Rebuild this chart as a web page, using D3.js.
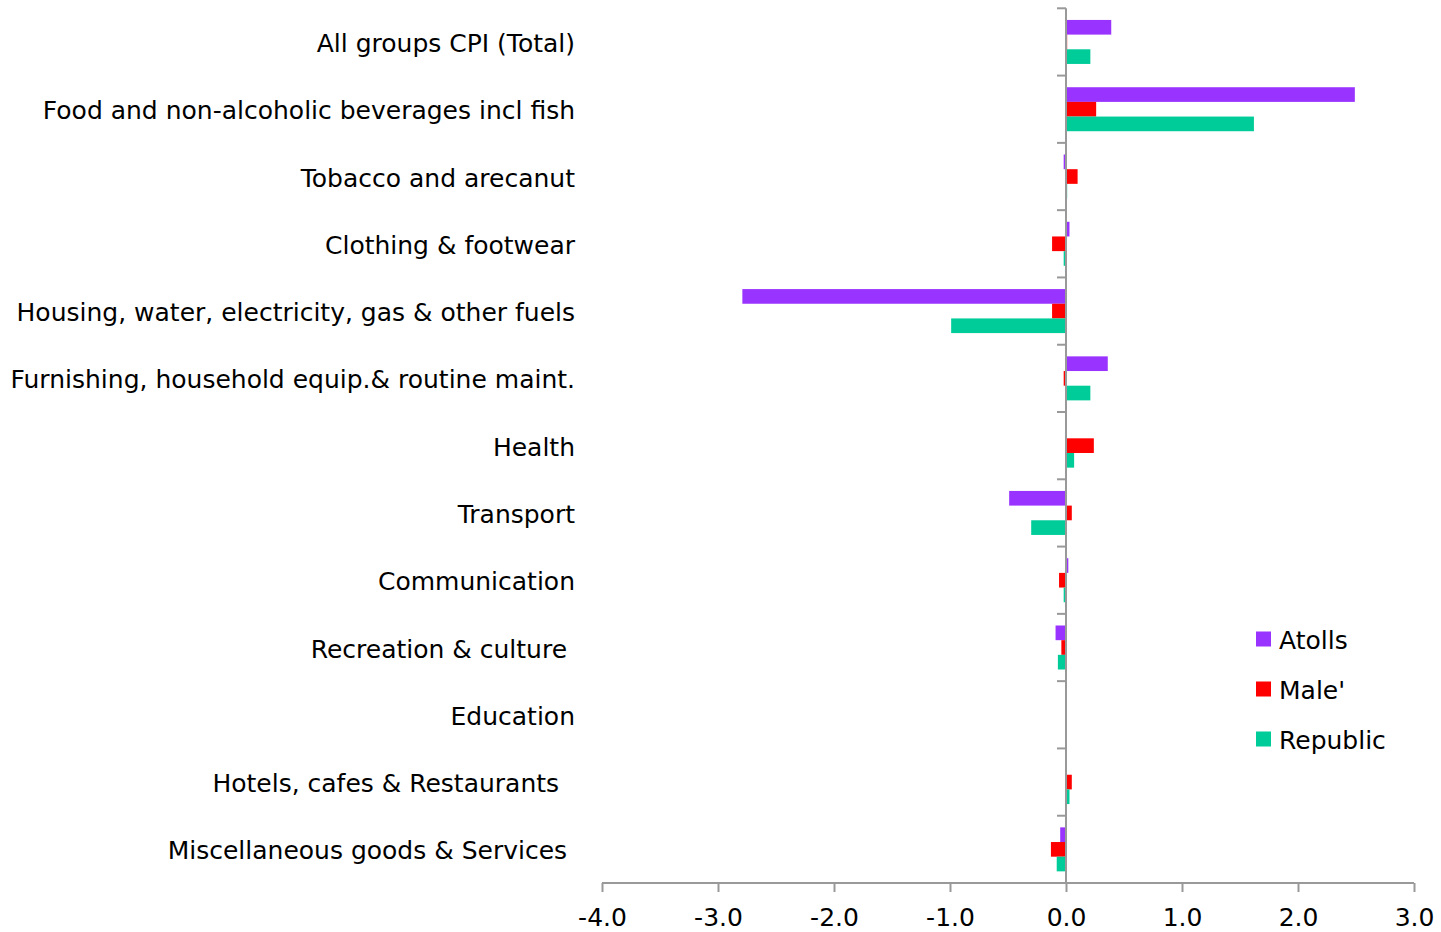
<!DOCTYPE html>
<html>
<head>
<meta charset="utf-8">
<script src="https://cdn.jsdelivr.net/npm/d3@7"></script>
<style>
  html, body { margin: 0; padding: 0; background: #fff; }
  svg { display: block; }
  text { font-family: "DejaVu Sans", sans-serif; fill: #000; }
</style>
</head>
<body>
<svg id="chart" width="1441" height="932"></svg>
<script>
const categories = [
  "All groups CPI (Total)",
  "Food and non-alcoholic beverages incl fish",
  "Tobacco and arecanut",
  "Clothing & footwear",
  "Housing, water, electricity, gas & other fuels",
  "Furnishing, household equip.& routine maint.",
  "Health",
  "Transport",
  "Communication",
  "Recreation & culture ",
  "Education",
  "Hotels, cafes & Restaurants  ",
  "Miscellaneous goods & Services "
];
const seriesNames = ["Atolls", "Male'", "Republic"];
const atolls   = [0.39, 2.49, -0.02, 0.03, -2.79, 0.36, 0.00, -0.49, 0.02, -0.09, 0.00, 0.00, -0.05];
const male     = [0.01, 0.26, 0.10, -0.12, -0.12, -0.02, 0.24, 0.05, -0.06, -0.04, 0.00, 0.05, -0.13];
const republic = [0.21, 1.62, 0.01, -0.02, -0.99, 0.21, 0.07, -0.30, -0.02, -0.07, 0.00, 0.03, -0.08];
const xTicks = [-4, -3, -2, -1, 0, 1, 2, 3];
const colors = ["#9933FF", "#FF0000", "#00CC99"];

const seriesValues = [atolls, male, republic];
const svg = d3.select("#chart");

const x = d3.scaleLinear().domain([-4, 3]).range([602, 1414]);
const y = d3.scaleBand().domain(categories).range([8.3, 883]).paddingInner(0).paddingOuter(0);
const groupH = 44;
const ySub = d3.scaleBand().domain(seriesNames).range([(y.bandwidth() - groupH) / 2, (y.bandwidth() + groupH) / 2]);

// bars
const g = svg.append("g");
categories.forEach((c, i) => {
  seriesNames.forEach((s, j) => {
    const v = seriesValues[j][i];
    if (v === 0) return;
    g.append("rect")
      .attr("x", x(Math.min(0, v)))
      .attr("width", Math.abs(x(v) - x(0)))
      .attr("y", y(c) + ySub(s))
      .attr("height", ySub.bandwidth())
      .attr("fill", colors[j]);
  });
});

const axisColor = "#999999";

// x axis
const fmt = d3.format(".1f");
const xAxis = svg.append("g").attr("transform", "translate(0,883)")
  .call(d3.axisBottom(x).tickValues(xTicks).tickFormat(d => fmt(d).replace("\u2212", "-")).tickSize(9).tickPadding(16));
xAxis.select(".domain").attr("stroke", axisColor).attr("stroke-width", 2).attr("d", "M602,0H1414");
xAxis.selectAll(".tick line").attr("stroke", axisColor).attr("stroke-width", 2);
xAxis.selectAll(".tick text").style("font-size", "25px").style("font-family", "\"DejaVu Sans\", sans-serif").attr("fill", "#000");

// y axis at zero
const yTicksPos = categories.map(c => y(c));
const yAxisG = svg.append("g");
yAxisG.append("line").attr("x1", x(0)).attr("x2", x(0)).attr("y1", 8.3).attr("y2", 883)
  .attr("stroke", axisColor).attr("stroke-width", 2);
yAxisG.selectAll("line.tk").data(yTicksPos).join("line").attr("class", "tk")
  .attr("x1", x(0) - 9).attr("x2", x(0)).attr("y1", d => d).attr("y2", d => d)
  .attr("stroke", axisColor).attr("stroke-width", 2);

// category labels
svg.append("g").selectAll("text").data(categories).join("text")
  .attr("x", 575)
  .attr("y", d => y(d) + y.bandwidth() / 2 + 1)
  .attr("dy", "0.36em")
  .attr("text-anchor", "end")
  .style("white-space", "pre")
  .style("font-size", "25px")
  .text(d => d);

// legend
const legend = svg.append("g");
seriesNames.forEach((s, j) => {
  const cy = 639 + j * 50;
  legend.append("rect").attr("x", 1256).attr("y", cy - 7.5).attr("width", 15).attr("height", 15).attr("fill", colors[j]);
  legend.append("text").attr("x", 1279).attr("y", cy + 1).attr("dy", "0.36em").style("font-size", "25px").text(s);
});
</script>
</body>
</html>
